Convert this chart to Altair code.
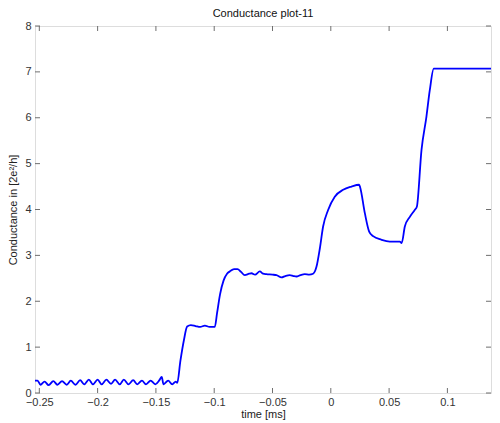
import altair as alt
import pandas as pd

# trace: time [ms] and conductance [2e^2/h]
t = [-0.2537, -0.2515, -0.2490, -0.2455, -0.2420, -0.2380, -0.2345, -0.2305, -0.2265, -0.2230,
     -0.2190, -0.2150, -0.2115, -0.2075, -0.2040, -0.2000, -0.1965, -0.1925, -0.1885, -0.1850,
     -0.1810, -0.1775, -0.1735, -0.1695, -0.1660, -0.1620, -0.1585, -0.1545, -0.1505, -0.1470,
     -0.1450, -0.1435, -0.1395, -0.1360, -0.1330, -0.1317,
     -0.1290, -0.1260, -0.1232, -0.1200, -0.1160, -0.1120, -0.1080, -0.1040, -0.0995,
     -0.0975, -0.0950, -0.0920, -0.0890, -0.0866, -0.0830, -0.0800, -0.0770, -0.0738, -0.0700,
     -0.0680, -0.0650, -0.0609, -0.0580, -0.0552, -0.0500, -0.0466, -0.0423, -0.0390, -0.0352,
     -0.0320, -0.0295, -0.0260, -0.0223, -0.0185, -0.0152, -0.0123, -0.0094, -0.0066, -0.0023,
     0.0034, 0.0106, 0.0177, 0.0243, 0.0252, 0.0292, 0.0329, 0.0363, 0.0435, 0.0506,
     0.0592, 0.0608, 0.0635, 0.0678, 0.0720, 0.0738, 0.0778, 0.0820, 0.0849, 0.0883, 0.1440]
g = [0.27, 0.27, 0.18, 0.25, 0.17, 0.26, 0.18, 0.26, 0.18, 0.27,
     0.18, 0.28, 0.19, 0.29, 0.19, 0.29, 0.19, 0.29, 0.20, 0.29,
     0.19, 0.29, 0.19, 0.28, 0.19, 0.27, 0.19, 0.27, 0.19, 0.28,
     0.35, 0.19, 0.27, 0.19, 0.25, 0.22,
     0.70, 1.15, 1.45, 1.48, 1.46, 1.44, 1.47, 1.44, 1.44,
     1.75, 2.15, 2.45, 2.60, 2.65, 2.70, 2.70, 2.64, 2.57, 2.60,
     2.61, 2.58, 2.65, 2.60, 2.59, 2.58, 2.57, 2.52, 2.55, 2.57,
     2.55, 2.54, 2.57, 2.59, 2.58, 2.60, 2.75, 3.15, 3.63, 3.99,
     4.28, 4.43, 4.50, 4.54, 4.48, 3.92, 3.52, 3.42, 3.34, 3.30,
     3.30, 3.27, 3.63, 3.84, 3.99, 4.06, 5.30, 6.02, 6.60, 7.07, 7.07]

x_ticks = [-0.25, -0.2, -0.15, -0.1, -0.05, 0, 0.05, 0.1]
y_ticks = [0, 1, 2, 3, 4, 5, 6, 7, 8]
x_domain = [-0.2537, 0.1374]
y_domain = [0, 8]

W, H = 456, 367
AX = "#6f6f6f"
FONT = "Liberation Sans"

df = pd.DataFrame({"t": t, "g": g})
xt = pd.DataFrame({"v": x_ticks})
yt = pd.DataFrame({"v": y_ticks})

xs = alt.Scale(domain=x_domain, nice=False, zero=False)
ys = alt.Scale(domain=y_domain, nice=False, zero=False)

line = alt.Chart(df).mark_line(color="#0000ff", strokeWidth=1.8, clip=True,
                               interpolate="monotone").encode(
    x=alt.X("t:Q", scale=xs, title="time [ms]",
            axis=alt.Axis(values=x_ticks, format=".2~f", ticks=False, domain=False, grid=False,
                          labelPadding=3, titlePadding=1, labelFont=FONT, titleFont=FONT,
                          labelFontSize=11, titleFontSize=11, titleFontWeight="normal",
                          labelColor="#333333", titleColor="#222222", labelFlush=False)),
    y=alt.Y("g:Q", scale=ys, title="Conductance in [2e²/h]",
            axis=alt.Axis(values=y_ticks, ticks=False, domain=False, grid=False,
                          labelPadding=4, titlePadding=6, labelFont=FONT, titleFont=FONT,
                          labelFontSize=11, titleFontSize=11, titleFontWeight="normal",
                          labelColor="#333333", titleColor="#222222", labelFlush=False)),
)

tb = alt.Chart(xt).mark_rule(color=AX).encode(x=alt.X("v:Q", scale=xs), y=alt.value(H), y2=alt.value(H - 5))
tt = alt.Chart(xt).mark_rule(color=AX).encode(x=alt.X("v:Q", scale=xs), y=alt.value(0), y2=alt.value(5))
tl = alt.Chart(yt).mark_rule(color=AX).encode(y=alt.Y("v:Q", scale=ys), x=alt.value(0), x2=alt.value(5))
tr = alt.Chart(yt).mark_rule(color=AX).encode(y=alt.Y("v:Q", scale=ys), x=alt.value(W), x2=alt.value(W - 5))

chart = alt.layer(line, tb, tt, tl, tr).properties(
    width=W, height=H,
    title=alt.TitleParams("Conductance plot-11", font=FONT, fontSize=11, fontWeight="normal",
                          color="#111111", offset=1),
    autosize=alt.AutoSizeParams(type="none"),
    padding={"left": 27, "top": 18, "right": 1, "bottom": 28},
).configure_view(stroke=AX, strokeWidth=1).configure(background="white")

chart.save("out.html", embed_options={"renderer": "svg", "actions": False})
